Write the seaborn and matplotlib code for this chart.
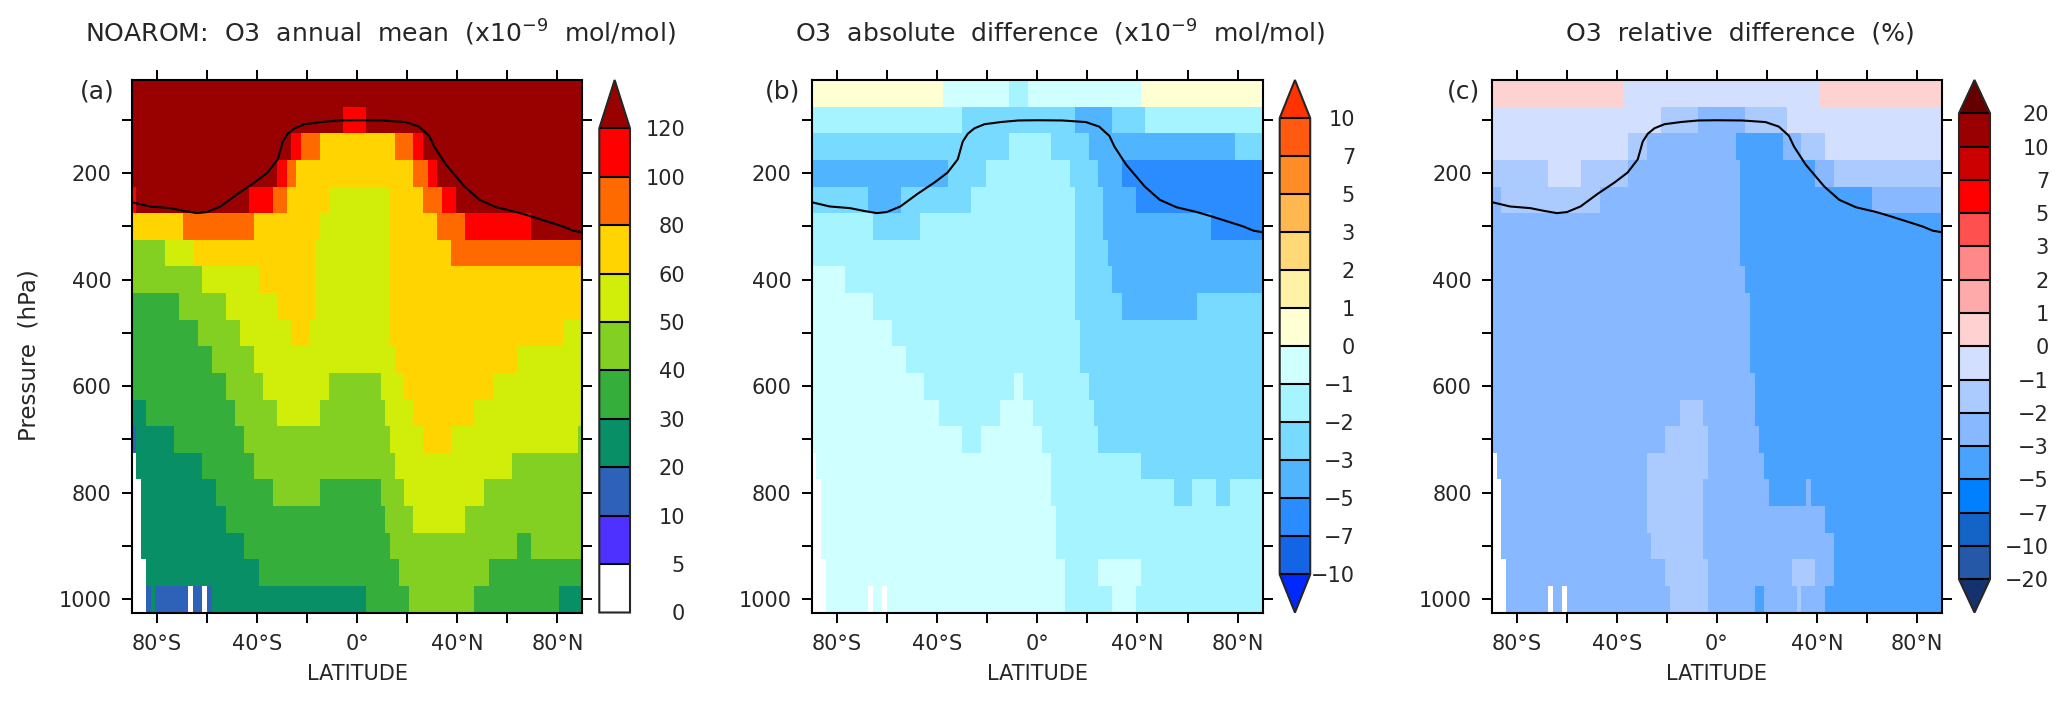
import numpy as np
import pandas as pd
import matplotlib
matplotlib.use("Agg")
import matplotlib.pyplot as plt
import seaborn as sns
from matplotlib.cm import ScalarMappable
from matplotlib.colors import BoundaryNorm, ListedColormap

# model grid
PRESSURE = [50, 100, 150, 200, 250, 300, 350, 400, 450, 500,
            550, 600, 650, 700, 750, 800, 850, 900, 950, 1000]
N_LAT = 96
DLAT = 1.875

# tropopause
TROP_LAT = [-89.5, -82.8, -74.7, -69.4, -64, -60, -54.6, -47.8, -41, -35.8, -31.7, -29.7,
            -27.7, -25, -21, -14.2, -7.5, 0, 10, 19.4, 24.7, 28.8, 30.8, 35.5, 42.9,
            48.9, 55.6, 63.7, 68.8, 82.2, 86.3, 89.6]
TROP_P = [255, 262.5, 265.6, 270.6, 275, 273, 262.5, 239, 217.5, 199, 174, 140.6,
          126, 115.6, 108, 103.8, 101, 100.6, 101, 104, 112.5, 130, 150, 184, 225,
          250, 264, 273, 280, 300, 308, 310.6]

# rows are (value, latitude where the run ends); None = missing
A_ROWS = [
    [(130, 90)],
    [(130, -5.5), (110, 3.9), (130, 90)],
    [(130, -26.3), (110, -22.4), (90, -14.9), (70, 14.9), (90, 22.6), (110, 26.2), (130, 90)],
    [(130, -32), (110, -28), (90, -24.3), (70, 22.6), (90, 28), (110, 32), (130, 90)],
    [(110, -88), (130, -42.9), (110, -33.7), (90, -28), (70, -11.4), (55, 13), (70, 26), (90, 33.6), (110, 39.2), (130, 90)],
    [(70, -69), (90, -41.3), (70, -14.9), (55, 13), (70, 31.7), (90, 42.9), (110, 69), (130, 90)],
    [(45, -76.6), (55, -65.3), (70, -16.8), (55, 13), (70, 37.2), (90, 90)],
    [(45, -61.6), (55, -39), (70, -16.8), (55, 13), (70, 90)],
    [(35, -71), (45, -52), (55, -31.7), (70, -16.8), (55, 13), (70, 90)],
    [(35, -63.4), (45, -46.8), (55, -26), (70, -18.5), (55, 13), (70, 82.2), (55, 90)],
    [(35, -58), (45, -41.3), (55, 15), (70, 63.4), (55, 90)],
    [(35, -52.4), (45, -37.4), (55, -11.3), (45, 9.4), (55, 18.8), (70, 54.3), (55, 90)],
    [(25, -84), (35, -48.7), (45, -31.7), (55, -14.9), (45, 11.2), (55, 22.6), (70, 46.5), (55, 90)],
    [(15, -88), (25, -72.8), (35, -44.9), (45, 13), (55, 26), (70, 37.2), (55, 87.6), (45, 90)],
    [(None, -87.8), (25, -61.6), (35, -41.3), (45, 14.9), (55, 61.7), (45, 90)],
    [(None, -85.9), (25, -56.2), (35, -33.7), (45, -14.9), (35, 9.4), (45, 18.7), (55, 50.5), (45, 90)],
    [(None, -85.9), (25, -52.4), (35, 11.2), (45, 22.3), (55, 43), (45, 90)],
    [(None, -85.9), (25, -44.9), (35, 13), (45, 63.4), (35, 69.2), (45, 90)],
    [(None, -84), (25, -39.2), (35, 16.7), (45, 52.4), (35, 90)],
    [(None, -84), (15, -82.5), (25, -80.6), (15, -67.5), (None, -65.6), (15, -61.9), (None, -60),
     (15, -58.1), (25, 3.6), (35, 20.4), (45, 46.6), (35, 80.2), (25, 90)],
]

B_ROWS = [
    [(0.5, -37.4), (-0.5, -11), (-1.5, -4), (-0.5, 41.1), (0.5, 90)],
    [(-1.5, -29.8), (-2.5, 15), (-4, 29.8), (-2.5, 43), (-1.5, 90)],
    [(-2.5, -11.3), (-1.5, 5.6), (-2.5, 20.6), (-4, 78.4), (-2.5, 90)],
    [(-4, -35.3), (-2.5, -20.7), (-1.5, 13.2), (-2.5, 24.3), (-4, 33.6), (-6, 90)],
    [(-2.5, -67.2), (-4, -54.3), (-2.5, -26.2), (-1.5, 15), (-2.5, 26.2), (-4, 39.3), (-6, 90)],
    [(-1.5, -65), (-2.5, -46.6), (-1.5, 15), (-2.5, 26.2), (-4, 69.2), (-6, 90)],
    [(-1.5, 15), (-2.5, 28), (-4, 90)],
    [(-0.5, -76.6), (-1.5, 15), (-2.5, 29.8), (-4, 90)],
    [(-0.5, -65), (-1.5, 15), (-2.5, 33.6), (-4, 63.3), (-2.5, 90)],
    [(-0.5, -57.8), (-1.5, 16.8), (-2.5, 90)],
    [(-0.5, -52.4), (-1.5, 16.8), (-2.5, 90)],
    [(-0.5, -44.8), (-1.5, -9.4), (-0.5, -5.4), (-1.5, 20.7), (-2.5, 90)],
    [(-0.5, -39.2), (-1.5, -15), (-0.5, -1.7), (-1.5, 22.5), (-2.5, 90)],
    [(-0.5, -29.8), (-1.5, -22.4), (-0.5, 2), (-1.5, 24.3), (-2.5, 90)],
    [(None, -87.8), (-0.5, 5.8), (-1.5, 41.1), (-2.5, 90)],
    [(None, -85.8), (-0.5, 5.8), (-1.5, 54), (-2.5, 61.6), (-1.5, 71), (-2.5, 76.4), (-1.5, 90)],
    [(None, -85.8), (-0.5, 7.5), (-1.5, 90)],
    [(None, -85.8), (-0.5, 7.5), (-1.5, 90)],
    [(None, -84), (-0.5, 11.2), (-1.5, 24.2), (-0.5, 41.1), (-1.5, 90)],
    [(None, -84), (-0.5, -67.5), (None, -65.6), (-0.5, -61.9), (None, -60), (-0.5, 11.2),
     (-1.5, 29.8), (-0.5, 39.3), (-1.5, 90)],
]

C_ROWS = [
    [(0.5, -37.5), (-0.5, 41), (0.5, 90)],
    [(-0.5, -22.3), (-1.5, -7.5), (-2.5, 11), (-1.5, 27.8), (-0.5, 90)],
    [(-0.5, -35.3), (-1.5, -28), (-2.5, 7.5), (-4, 26), (-2.5, 33.3), (-1.5, 42.9), (-0.5, 90)],
    [(-1.5, -67.3), (-0.5, -54.2), (-1.5, -35.3), (-2.5, 9.3), (-4, 39.1), (-2.5, 46.5), (-1.5, 90)],
    [(-2.5, -85.8), (-1.5, -46.8), (-2.5, 9.3), (-4, 61.4), (-2.5, 90)],
    [(-2.5, 9.3), (-4, 90)],
    [(-2.5, 9.3), (-4, 90)],
    [(-2.5, 11), (-4, 90)],
    [(-2.5, 12.9), (-4, 90)],
    [(-2.5, 12.9), (-4, 90)],
    [(-2.5, 12.9), (-4, 90)],
    [(-2.5, 14.8), (-4, 90)],
    [(-2.5, -15.2), (-1.5, -5.6), (-2.5, 14.8), (-4, 90)],
    [(-2.5, -20.6), (-1.5, -3.8), (-2.5, 16.7), (-4, 90)],
    [(None, -87.6), (-2.5, -28.4), (-1.5, -3.8), (-2.5, 18.7), (-4, 90)],
    [(None, -85.8), (-2.5, -28.4), (-1.5, -5.6), (-2.5, 20.4), (-4, 35.3), (-2.5, 37.2), (-4, 90)],
    [(None, -85.8), (-2.5, -28.4), (-1.5, -5.6), (-2.5, 42.9), (-4, 90)],
    [(None, -85.8), (-2.5, -26.3), (-1.5, -5.6), (-2.5, 46.6), (-4, 90)],
    [(None, -83.9), (-2.5, -20.6), (-1.5, -3.8), (-2.5, 29.7), (-1.5, 39.2), (-2.5, 46.6), (-4, 90)],
    [(None, -83.9), (-2.5, -67.5), (None, -65.6), (-2.5, -61.9), (None, -60), (-2.5, -18.8),
     (-1.5, -3.8), (-2.5, 14.8), (-4, 18.7), (-2.5, 31.6), (-1.5, 33.5), (-2.5, 42.9), (-4, 90)],
]

# colour classes
A_LEVELS = [0, 5, 10, 20, 30, 40, 50, 60, 80, 100, 120]
A_COLORS = ["#FFFFFF", "#4F31FF", "#2E62B8", "#088F66", "#35AE3B", "#83D023",
            "#D1EE0A", "#FFD400", "#FF6A00", "#FF0000", "#990000"]
B_LEVELS = [-10, -7, -5, -3, -2, -1, 0, 1, 2, 3, 5, 7, 10]
B_COLORS = ["#0028FF", "#1464E6", "#2A8CFF", "#50B4FF", "#78DAFF", "#A5F4FF", "#D0FFFF",
            "#FFFFD4", "#FFF2A6", "#FFD878", "#FFB84F", "#FF8C25", "#FF5A10", "#FF3300"]
C_LEVELS = [-20, -10, -7, -5, -3, -2, -1, 0, 1, 2, 3, 5, 7, 10, 20]
C_COLORS = ["#14336E", "#2658A8", "#1464C8", "#0080FF", "#4AA2FF", "#88B8FF", "#ABCBFF", "#D2DFFF",
            "#FFD2D2", "#FFAAAA", "#FF8888", "#FF5050", "#FF0000", "#CC0000", "#990000", "#660000"]

TITLES = [r"NOAROM:  O3  annual  mean  (x10$^{-9}$  mol/mol)",
          r"O3  absolute  difference  (x10$^{-9}$  mol/mol)",
          "O3  relative  difference  (%)"]
TITLE_X = [380.5, 1059.5, 1740]
PANEL_LABELS = ["(a)", "(b)", "(c)"]
LABEL_RIGHT = [115, 800, 1480]
LAT_TICKS = [-80, -60, -40, -20, 0, 20, 40, 60, 80]
LAT_LABELS = ["80°S", "", "40°S", "", "0°", "", "40°N", "", "80°N"]
P_TICKS = [100, 200, 300, 400, 500, 600, 700, 800, 900, 1000]
P_LABELS = ["", "200", "", "400", "", "600", "", "800", "", "1000"]

W, H = 2067, 701
PANEL_X = [(131.8, 582.4), (811.6, 1262.8), (1492, 1942)]
CBAR_X = [(599.3, 630), (1279.7, 1310.2), (1959, 1990)]
LEVEL_RIGHT = [685, 1355, 2049]
TOP, BOTTOM = 80, 612.5
PT = 72 / 100  # points per pixel


def px_axes(fig, x0, x1, y0=TOP, y1=BOTTOM):
    return fig.add_axes([x0 / W, 1 - y1 / H, (x1 - x0) / W, (y1 - y0) / H])


def expand_rows(rows):
    edges = -90 + DLAT * np.arange(N_LAT + 1)
    grid = np.full((len(rows), N_LAT), np.nan)
    for i, row in enumerate(rows):
        start = 0
        for val, lat_end in row:
            stop = int(np.abs(edges - lat_end).argmin())
            if val is not None:
                grid[i, start:stop] = val
            start = stop
    return pd.DataFrame(grid, index=PRESSURE)


def lat_pos(lat):
    return (np.asarray(lat) + 90) / DLAT


def p_pos(p):
    return (np.asarray(p) - 25) / 50


sns.set_style("ticks")
plt.rcParams["font.family"] = ["DejaVu Sans"]
plt.rcParams["mathtext.default"] = "regular"

fig = plt.figure(figsize=(W / 100, H / 100), dpi=100)

panels = [(A_ROWS, A_LEVELS, A_COLORS, "max", 1 / 10),
          (B_ROWS, B_LEVELS, B_COLORS, "both", 1 / 12),
          (C_ROWS, C_LEVELS, C_COLORS, "both", 1 / 14)]

for k, (rows, levels, colors, ext, frac) in enumerate(panels):
    cmap = ListedColormap(colors)
    norm = BoundaryNorm(levels, ncolors=len(colors), extend=ext)

    ax = px_axes(fig, *PANEL_X[k])
    sns.heatmap(expand_rows(rows), cmap=cmap, norm=norm, cbar=False, ax=ax,
                xticklabels=False, yticklabels=False)
    sns.lineplot(x=lat_pos(TROP_LAT), y=p_pos(TROP_P), color="black", linewidth=1.5,
                 sort=False, estimator=None, ax=ax)

    ax.set_xticks(lat_pos(LAT_TICKS), LAT_LABELS)
    ax.set_yticks(p_pos(P_TICKS), P_LABELS, rotation=0)
    ax.tick_params(axis="both", top=True, right=True, direction="out", length=7.5,
                   width=1.4, labelsize=15, color="black")
    ax.tick_params(axis="x", pad=8)
    ax.tick_params(axis="y", pad=7)
    for spine in ax.spines.values():
        spine.set_visible(True)
        spine.set_linewidth(1.5)
        spine.set_color("black")
    ax.set_xlabel("")
    ax.set_ylabel("")
    fig.text((PANEL_X[k][0] + PANEL_X[k][1]) / 2 / W, 1 - 674 / H, "LATITUDE",
             ha="center", va="center", fontsize=15)

    fig.text(TITLE_X[k] / W, 1 - 33 / H, TITLES[k], ha="center", va="center", fontsize=18.1)
    fig.text(LABEL_RIGHT[k] / W, 1 - 92 / H, PANEL_LABELS[k], ha="right", va="center", fontsize=18)

    cax = px_axes(fig, *CBAR_X[k])
    cb = fig.colorbar(ScalarMappable(norm=norm, cmap=cmap), cax=cax, extend=ext,
                      extendfrac=frac, spacing="uniform", drawedges=True)
    cb.outline.set_linewidth(1.5)
    cb.dividers.set_linewidth(1.5)
    cb.dividers.set_color("black")
    cb.minorticks_off()
    cb.set_ticks(levels, labels=[str(v).replace("-", "\u2212") for v in levels])
    cax.tick_params(length=0, labelsize=15, pad=(LEVEL_RIGHT[k] - CBAR_X[k][1]) * PT)
    for lab in cax.get_yticklabels():
        lab.set_ha("right")

fig.text(29 / W, 1 - 355 / H, "Pressure  (hPa)", rotation=90, ha="center", va="center", fontsize=16.5)

fig.savefig("out.png", dpi=100)
